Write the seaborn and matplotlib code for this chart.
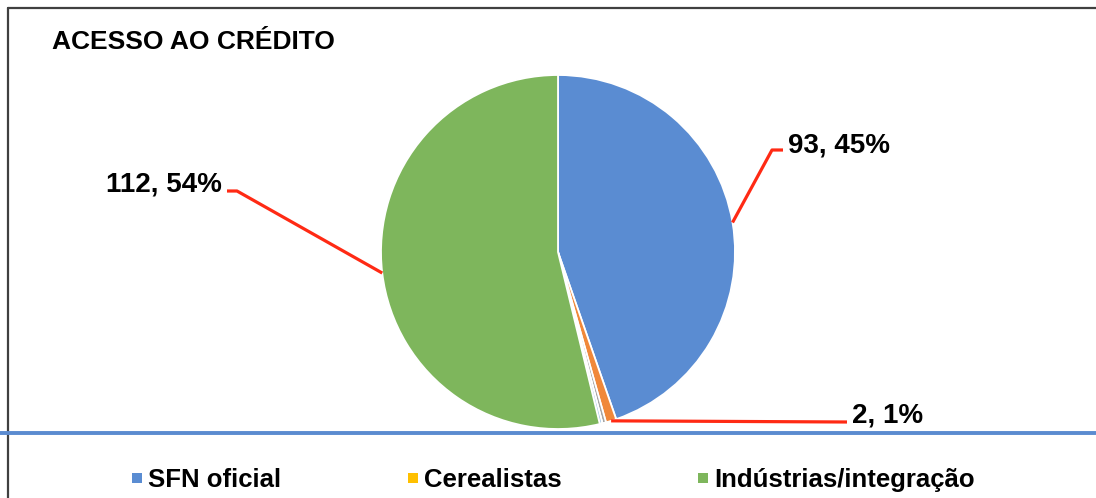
import matplotlib
matplotlib.use("Agg")
import matplotlib.pyplot as plt
from matplotlib.patches import Rectangle
import numpy as np
import seaborn as sns

# slices in clockwise order from 12 o'clock
fatias = ['SFN oficial', 'outro_a', 'outro_b', 'Cerealistas', 'outro_c', 'Indústrias/integração']
valores = [93, 2, 0.7, 0, 0.5, 112]
cores = ['#5A8CD2', '#F0883A', '#A5A5A5', '#FFC000', '#9DC3E6', '#7EB65C']

legenda_nomes = ['SFN oficial', 'Cerealistas', 'Indústrias/integração']
legenda_cores = ['#5A8CD2', '#FFC000', '#7EB65C']

titulo = 'ACESSO AO CRÉDITO'

sns.set_theme(style='white')
plt.rcParams['font.family'] = ['Liberation Sans', 'DejaVu Sans']
plt.rcParams['text.color'] = 'black'

fig = plt.figure(figsize=(10.96, 4.98), dpi=100)
fig.patch.set_facecolor('white')

# pie axes: centre (558, 252) px, radius 177 px
W, H = 1096, 498
ax = fig.add_axes([381 / W, (H - 429) / H, 354 / W, 354 / H])
wedges, _ = ax.pie(valores, colors=cores, startangle=90, counterclock=False,
                   wedgeprops=dict(edgecolor='white', linewidth=1.3))
ax.set_xlim(-1, 1)
ax.set_ylim(-1, 1)
ax.set_aspect('equal')
ax.axis('off')

# overlay in pixel coordinates (top-left origin)
ov = fig.add_axes([0, 0, 1, 1], zorder=5)
ov.set_xlim(0, W)
ov.set_ylim(H, 0)
ov.axis('off')
ov.patch.set_alpha(0)


def ancora(w):
    th = np.deg2rad((w.theta1 + w.theta2) / 2)
    disp = ax.transData.transform((np.cos(th), np.sin(th)))
    return ov.transData.inverted().transform(disp)


total = sum(valores)
txt = {n: f"{int(v)}, {v / total:.0%}" for n, v in zip(fatias, valores)}
red = '#FF2A14'
lw = 2.3
fs_lab = 20

# SFN oficial
a = ancora(wedges[0])
ov.plot([a[0], 772, 783], [a[1], 150, 150], color=red, lw=lw, solid_capstyle='butt')
ov.text(788, 152, txt['SFN oficial'], fontsize=fs_lab, fontweight='bold', va='baseline', ha='left')

# small orange slice
a = ancora(wedges[1])
ov.plot([a[0], 847], [a[1], 422], color=red, lw=lw, solid_capstyle='butt')
ov.text(852, 422, txt['outro_a'], fontsize=fs_lab, fontweight='bold', va='baseline', ha='left')

# Indústrias/integração
a = ancora(wedges[5])
ov.plot([227, 237, a[0]], [191, 191, a[1]], color=red, lw=lw, solid_capstyle='butt')
ov.text(222, 191, txt['Indústrias/integração'], fontsize=fs_lab, fontweight='bold', va='baseline', ha='right')

# title
ov.text(52, 49, titulo, fontsize=19, fontweight='bold', va='baseline', ha='left')

# frame lines
ov.plot([8, W], [8, 8], color='#404040', lw=1.6, clip_on=False)
ov.plot([8, 8], [8, H], color='#404040', lw=1.6, clip_on=False)
ov.plot([0, W], [433, 433], color='#5B8BD0', lw=2.8, clip_on=False)

# legend
leg_x = [132, 408, 698]
for x, nome, cor in zip(leg_x, legenda_nomes, legenda_cores):
    ov.add_patch(Rectangle((x, 473), 10, 10, facecolor=cor, edgecolor='none'))
    ov.text(x + 16, 487, nome, fontsize=18.5, fontweight='bold', va='baseline', ha='left')

fig.savefig('out.png', dpi=100)
